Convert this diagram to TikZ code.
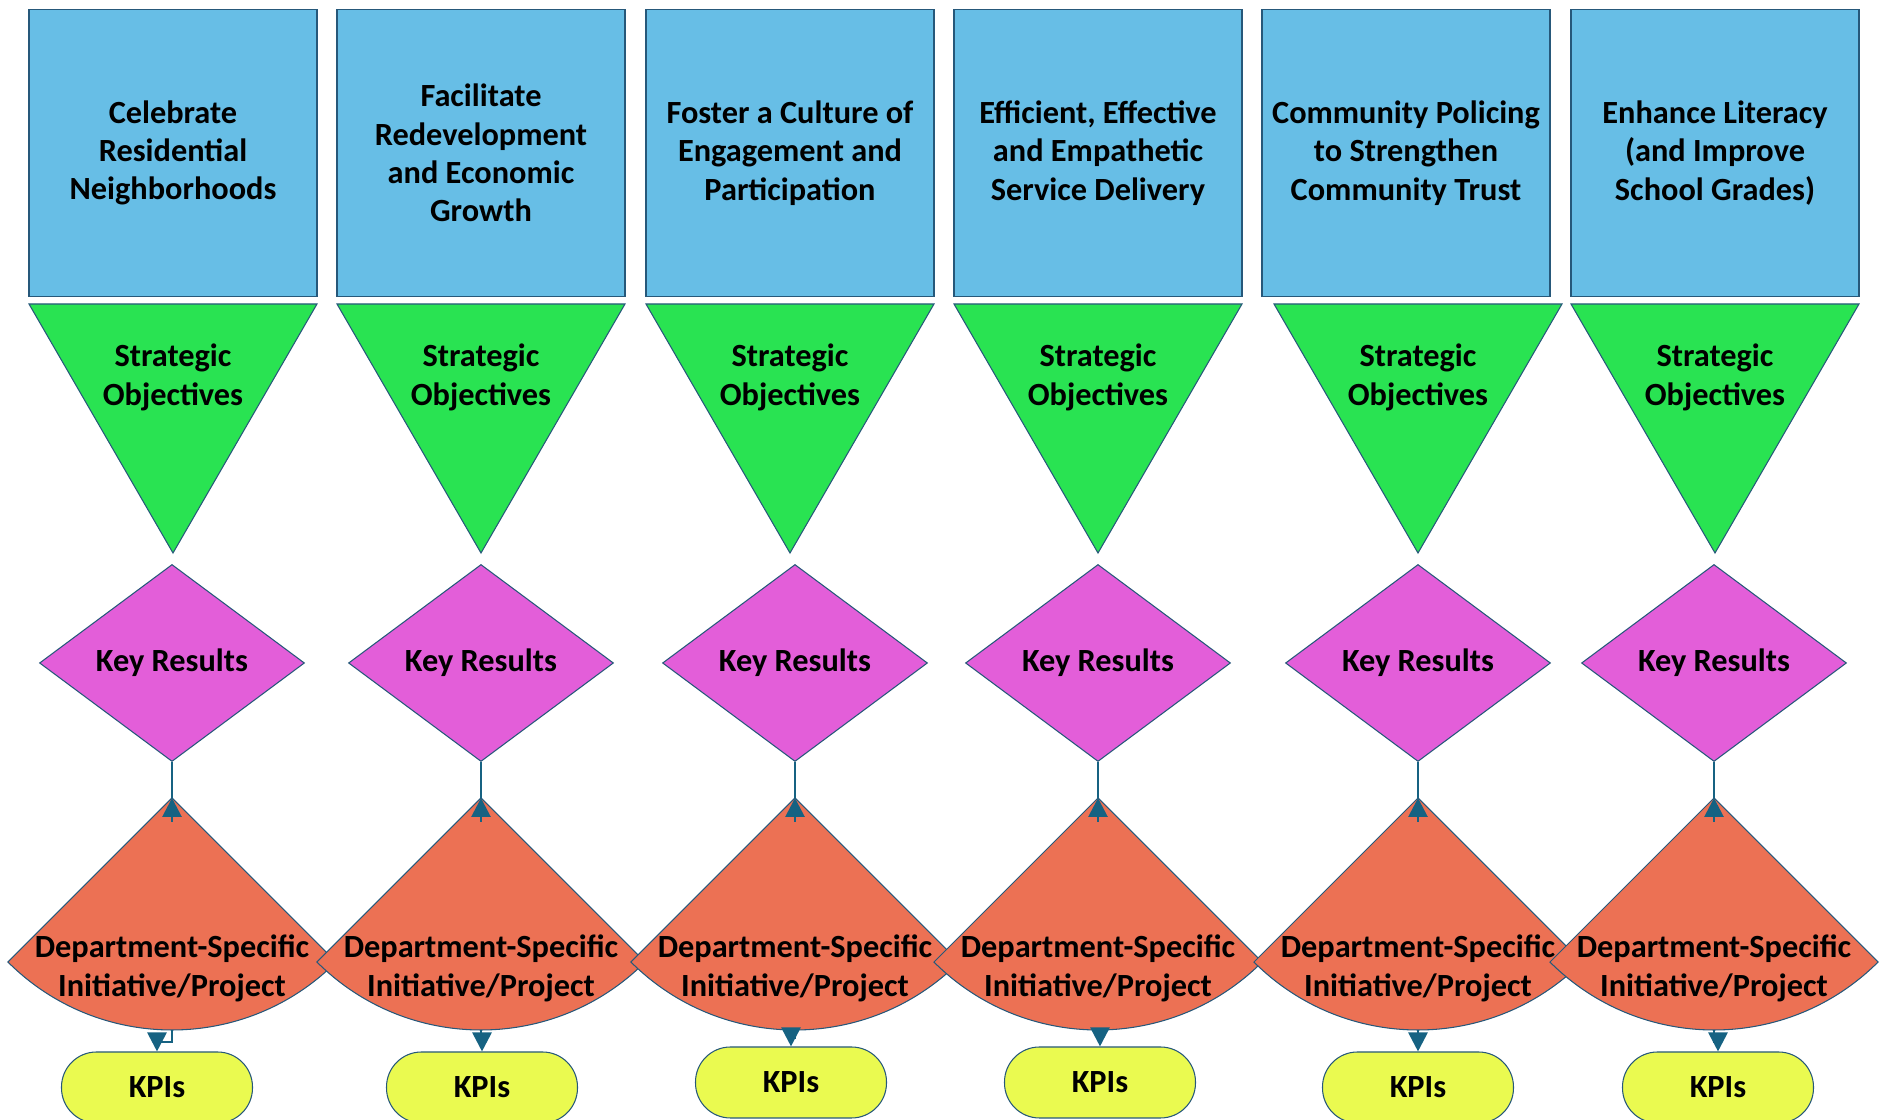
\documentclass[tikz,border=0pt]{standalone}
\usepackage{fontspec}
\usepackage{xcolor}
\setmainfont{Carlito}
\usetikzlibrary{arrows.meta,shapes,positioning}

\definecolor{goalblue}{RGB}{103,190,230}
\definecolor{objgreen}{RGB}{41,227,82}
\definecolor{krpink}{RGB}{227,94,217}
\definecolor{deptorange}{RGB}{236,113,84}
\definecolor{kpiyellow}{RGB}{234,250,80}
\definecolor{edgeblue}{RGB}{38,88,122}
\definecolor{linkblue}{RGB}{22,98,130}

\begin{document}
\begin{tikzpicture}[
    every node/.style={font=\fontsize{9.2}{10.9}\selectfont\bfseries, align=center, inner sep=0pt},
    goal/.style={draw=edgeblue, line width=0.3pt, fill=goalblue, minimum width=2.88cm, minimum height=2.87cm},
    objtri/.style={draw=edgeblue, line width=0.3pt, fill=objgreen},
    keyres/.style={diamond, draw=edgeblue, line width=0.3pt, fill=krpink, minimum width=2.65cm, minimum height=1.97cm},
    deptsec/.style={draw=edgeblue, line width=0.3pt, fill=deptorange},
    kpi/.style={draw=edgeblue, line width=0.3pt, fill=kpiyellow, rounded corners=3.5mm, minimum width=1.91cm, minimum height=0.71cm},
    link/.style={draw=linkblue, line width=0.8pt},
    tip/.style={-{Triangle[length=0.19cm,width=0.19cm]}}
]
    \useasboundingbox (0,0) rectangle (18.81,11.2);

    % Goal boxes
    \node[goal] (g1) at (1.73,9.67) {Celebrate\\Residential\\Neighborhoods};
    \node[goal] (g2) at (4.81,9.67) {Facilitate\\Redevelopment\\and Economic\\Growth};
    \node[goal] (g3) at (7.90,9.67) {Foster a Culture of\\Engagement and\\Participation};
    \node[goal] (g4) at (10.98,9.67) {Efficient, Effective\\and Empathetic\\Service Delivery};
    \node[goal] (g5) at (14.06,9.67) {Community Policing\\to Strengthen\\Community Trust};
    \node[goal] (g6) at (17.15,9.67) {Enhance Literacy\\(and Improve\\School Grades)};

    % Strategic objective triangles
    \draw[objtri] (0.29,8.16) -- (3.17,8.16) -- (1.73,5.67) -- cycle;
    \draw[objtri] (3.37,8.16) -- (6.25,8.16) -- (4.81,5.67) -- cycle;
    \draw[objtri] (6.46,8.16) -- (9.34,8.16) -- (7.90,5.67) -- cycle;
    \draw[objtri] (9.54,8.16) -- (12.42,8.16) -- (10.98,5.67) -- cycle;
    \draw[objtri] (12.74,8.16) -- (15.62,8.16) -- (14.18,5.67) -- cycle;
    \draw[objtri] (15.71,8.16) -- (18.59,8.16) -- (17.15,5.67) -- cycle;
    \node (so1) at (1.73,7.425) {Strategic\\Objectives};
    \node (so2) at (4.81,7.425) {Strategic\\Objectives};
    \node (so3) at (7.90,7.425) {Strategic\\Objectives};
    \node (so4) at (10.98,7.425) {Strategic\\Objectives};
    \node (so5) at (14.18,7.425) {Strategic\\Objectives};
    \node (so6) at (17.15,7.425) {Strategic\\Objectives};

    % Key results
    \node[keyres] (kr1) at (1.72,4.57) {Key Results};
    \node[keyres] (kr2) at (4.81,4.57) {Key Results};
    \node[keyres] (kr3) at (7.95,4.57) {Key Results};
    \node[keyres] (kr4) at (10.98,4.57) {Key Results};
    \node[keyres] (kr5) at (14.18,4.57) {Key Results};
    \node[keyres] (kr6) at (17.14,4.57) {Key Results};

    % Department sectors, apex and bottom of the arc
    \coordinate (dp1t) at (1.72,3.22);  \coordinate (dp1b) at (1.72,0.90);
    \coordinate (dp2t) at (4.81,3.22);  \coordinate (dp2b) at (4.81,0.90);
    \coordinate (dp3t) at (7.95,3.22);  \coordinate (dp3b) at (7.95,0.90);
    \coordinate (dp4t) at (10.98,3.22); \coordinate (dp4b) at (10.98,0.90);
    \coordinate (dp5t) at (14.18,3.22); \coordinate (dp5b) at (14.18,0.90);
    \coordinate (dp6t) at (17.14,3.22); \coordinate (dp6b) at (17.14,0.90);
    \draw[deptsec] (dp1t) -- ++(-135:2.32) arc[start angle=-135, end angle=-45, radius=2.32] -- cycle;
    \node (dp1) at (1.72,1.515) {Department-Specific\\Initiative/Project};
    \draw[deptsec] (dp2t) -- ++(-135:2.32) arc[start angle=-135, end angle=-45, radius=2.32] -- cycle;
    \node (dp2) at (4.81,1.515) {Department-Specific\\Initiative/Project};
    \draw[deptsec] (dp3t) -- ++(-135:2.32) arc[start angle=-135, end angle=-45, radius=2.32] -- cycle;
    \node (dp3) at (7.95,1.515) {Department-Specific\\Initiative/Project};
    \draw[deptsec] (dp4t) -- ++(-135:2.32) arc[start angle=-135, end angle=-45, radius=2.32] -- cycle;
    \node (dp4) at (10.98,1.515) {Department-Specific\\Initiative/Project};
    \draw[deptsec] (dp5t) -- ++(-135:2.32) arc[start angle=-135, end angle=-45, radius=2.32] -- cycle;
    \node (dp5) at (14.18,1.515) {Department-Specific\\Initiative/Project};
    \draw[deptsec] (dp6t) -- ++(-135:2.32) arc[start angle=-135, end angle=-45, radius=2.32] -- cycle;
    \node (dp6) at (17.14,1.515) {Department-Specific\\Initiative/Project};

    % KPI pills
    \node[kpi] (kpi1) at (1.57,0.325) {KPIs};
    \node[kpi] (kpi2) at (4.82,0.325) {KPIs};
    \node[kpi] (kpi3) at (7.91,0.375) {KPIs};
    \node[kpi] (kpi4) at (11.00,0.375) {KPIs};
    \node[kpi] (kpi5) at (14.18,0.325) {KPIs};
    \node[kpi] (kpi6) at (17.18,0.325) {KPIs};

    % Links from key results down to the sectors, arrow up at the apex
    \draw[link] (kr1.south) -- (dp1t);
    \draw[link] (kr2.south) -- (dp2t);
    \draw[link] (kr3.south) -- (dp3t);
    \draw[link] (kr4.south) -- (dp4t);
    \draw[link] (kr5.south) -- (dp5t);
    \draw[link] (kr6.south) -- (dp6t);
    \draw[link, tip] ([yshift=-0.24cm]dp1t) -- (dp1t);
    \draw[link, tip] ([yshift=-0.24cm]dp2t) -- (dp2t);
    \draw[link, tip] ([yshift=-0.24cm]dp3t) -- (dp3t);
    \draw[link, tip] ([yshift=-0.24cm]dp4t) -- (dp4t);
    \draw[link, tip] ([yshift=-0.24cm]dp5t) -- (dp5t);
    \draw[link, tip] ([yshift=-0.24cm]dp6t) -- (dp6t);

    % Links from the sectors to the KPIs
    \draw[link, tip] (dp1b) -- ++(0,-0.12) -| (kpi1.north);
    \draw[link, tip] (dp2b) -- ++(0,-0.12) -| (kpi2.north);
    \draw[link, tip] (dp3b) -- ++(0,-0.08) -| (kpi3.north);
    \draw[link, tip] (dp4b) -- ++(0,-0.08) -| (kpi4.north);
    \draw[link, tip] (dp5b) -- ++(0,-0.12) -| (kpi5.north);
    \draw[link, tip] (dp6b) -- ++(0,-0.12) -| (kpi6.north);
\end{tikzpicture}
\end{document}
